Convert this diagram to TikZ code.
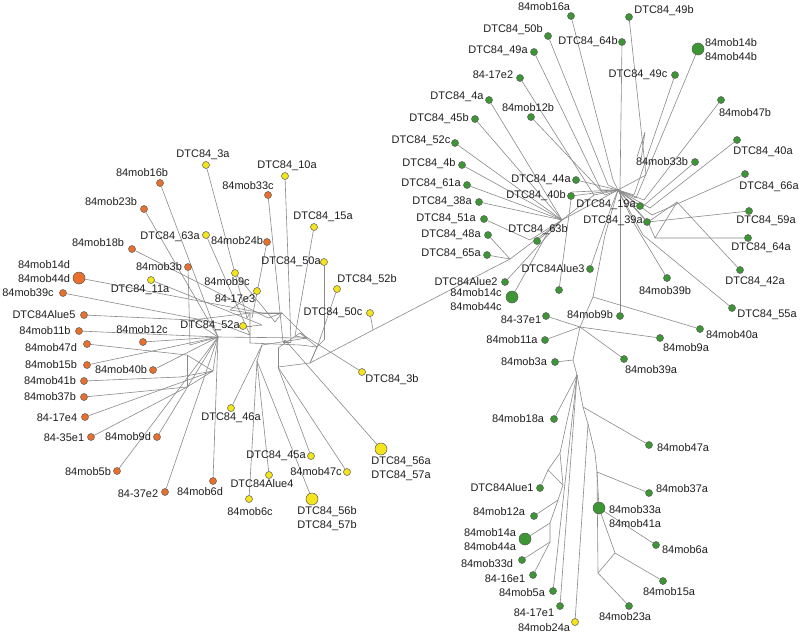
\documentclass[tikz,border=0pt]{standalone}
\usepackage{fontspec}
\setmainfont{Liberation Sans}
\usetikzlibrary{backgrounds}
\definecolor{orn}{HTML}{E8702C}
\definecolor{yel}{HTML}{F4E41C}
\definecolor{grn}{HTML}{3C9634}
\definecolor{edg}{HTML}{8A8A8A}
\newcommand\leafnode[5]{\node[#1] (#2) at (#3) {}; \node[lbl] (#2t) at (#4) {#5};}
\begin{document}
\begin{tikzpicture}[x=1pt,y=-1pt,
  dot/.style={circle,draw=black!65,line width=0.5pt,inner sep=0pt,minimum size=7pt},
  O/.style={dot,fill=orn}, Y/.style={dot,fill=yel}, G/.style={dot,fill=grn},
  big/.style={minimum size=12pt},
  lbl/.style={font=\fontsize{11}{14}\selectfont, text=black!88, inner sep=0pt, align=left},
  ed/.style={draw=edg, line width=0.6pt}]
\useasboundingbox (0,0) rectangle (800,635);

% ---------- left cluster leaves ----------
\leafnode{Y}{l3a}{206,165}{203,155}{DTC84\_3a}
\leafnode{O}{l16b}{160,183}{142,173}{84mob16b}
\leafnode{O}{l23b}{144,209}{111,202}{84mob23b}
\leafnode{Y}{l63a}{206,235}{170,237}{DTC84\_63a}
\leafnode{O}{l24b}{267,242}{237,241}{84mob24b}
\leafnode{O}{l18b}{132,249}{98,243}{84mob18b}
\leafnode{O}{l3b}{188,267}{159,267}{84mob3b}
\leafnode{O,big}{l14d}{79,278}{44,272}{84mob14d\\84mob44d}
\leafnode{Y}{l11a}{151,280}{140,290}{DTC84\_11a}
\leafnode{Y}{l9c}{235,273}{227,282}{84mob9c}
\leafnode{Y}{l17e3}{257,291}{235,299}{84-17e3}
\leafnode{O}{l39c}{63,293}{28,293}{84mob39c}
\leafnode{O}{lA5}{84,315}{44,315}{DTC84Alue5}
\leafnode{O}{l11b}{79,331}{45,331}{84mob11b}
\leafnode{O}{l12c}{143,342}{142,330}{84mob12c}
\leafnode{Y}{l52a}{243,326}{210,326}{DTC84\_52a}
\leafnode{O}{l47d}{87,344}{51,348}{84mob47d}
\leafnode{O}{l15b}{87,365}{51,365}{84mob15b}
\leafnode{O}{l40b}{153,370}{121,370}{84mob40b}
\leafnode{O}{l41b}{84,381}{50,381}{84mob41b}
\leafnode{O}{l37b}{84,397}{50,397}{84mob37b}
\leafnode{O}{l17e4}{85,417}{57,418}{84-17e4}
\leafnode{O}{l35e1}{91,437}{64,438}{84-35e1}
\leafnode{O}{l9d}{157,437}{128,437}{84mob9d}
\leafnode{O}{l5b}{117,471}{88,472}{84mob5b}
\leafnode{O}{l37e2}{165,492}{138,494}{84-37e2}
\leafnode{O}{l6d}{213,481}{200,492}{84mob6d}
\leafnode{Y}{l46a}{231,408}{231,418}{DTC84\_46a}
\leafnode{Y}{l50c}{370,313}{333,313}{DTC84\_50c}
\leafnode{Y}{l3bb}{362,372}{392,380}{DTC84\_3b}
\leafnode{Y}{l45a}{311,456}{276,456}{DTC84\_45a}
\leafnode{Y}{lA4}{269,475}{262,484}{DTC84Alue4}
\leafnode{Y}{l47c}{347,472}{316,472}{84mob47c}
\leafnode{Y}{l6c}{249,499}{250,512}{84mob6c}
\leafnode{Y,big}{l56b}{312,499}{327,519}{DTC84\_56b\\DTC84\_57b}
\leafnode{Y,big}{l56a}{381,449}{401,469}{DTC84\_56a\\DTC84\_57a}
\leafnode{Y}{l10a}{285,176}{287,166}{DTC84\_10a}
\leafnode{O}{l33c}{268,195}{248,186}{84mob33c}
\leafnode{Y}{l15a}{314,227}{323,217}{DTC84\_15a}
\leafnode{Y}{l50a}{324,262}{291,262}{DTC84\_50a}
\leafnode{Y}{l52b}{337,289}{367,280}{DTC84\_52b}

% ---------- right cluster leaves ----------
\leafnode{G}{r16a}{571,16}{544,7}{84mob16a}
\leafnode{G}{r49b}{629,17}{664,11}{DTC84\_49b}
\leafnode{G}{r50b}{548,36}{513,30}{DTC84\_50b}
\leafnode{G}{r64b}{622,42}{588,42}{DTC84\_64b}
\leafnode{G}{r49a}{534,52}{498,51}{DTC84\_49a}
\leafnode{G,big}{r14b}{698,49}{731,50}{84mob14b\\84mob44b}
\leafnode{G}{r17e2}{520,78}{493,75}{84-17e2}
\leafnode{G}{r49c}{675,75}{638,75}{DTC84\_49c}
\leafnode{G}{r4a}{489,100}{457,97}{DTC84\_4a}
\leafnode{G}{r47b}{721,100}{745,113}{84mob47b}
\leafnode{G}{r12b}{531,117}{528,108}{84mob12b}
\leafnode{G}{r45b}{475,119}{439,119}{DTC84\_45b}
\leafnode{G}{r52c}{455,143}{421,141}{DTC84\_52c}
\leafnode{G}{r40a}{737,140}{763,152}{DTC84\_40a}
\leafnode{G}{r33b}{695,162}{662,162}{84mob33b}
\leafnode{G}{r4b}{462,165}{429,164}{DTC84\_4b}
\leafnode{G}{r66a}{745,174}{769,187}{DTC84\_66a}
\leafnode{G}{r44a}{576,180}{541,180}{DTC84\_44a}
\leafnode{G}{r61a}{467,185}{431,184}{DTC84\_61a}
\leafnode{G}{r40b}{571,196}{536,196}{DTC84\_40b}
\leafnode{G}{r38a}{479,202}{442,202}{DTC84\_38a}
\leafnode{G}{r19a}{640,206}{606,205}{DTC84\_19a}
\leafnode{G}{r51a}{484,219}{446,219}{DTC84\_51a}
\leafnode{G}{r59a}{749,211}{766,221}{DTC84\_59a}
\leafnode{G}{r39a}{647,222}{613,221}{DTC84\_39a}
\leafnode{G}{r48a}{488,235}{451,235}{DTC84\_48a}
\leafnode{G}{r63b}{537,241}{538,230}{DTC84\_63b}
\leafnode{G}{r64a}{748,238}{761,248}{DTC84\_64a}
\leafnode{G}{r65a}{487,255}{451,254}{DTC84\_65a}
\leafnode{G}{rA3}{590,269}{553,269}{DTC84Alue3}
\leafnode{G}{r42a}{740,270}{755,282}{DTC84\_42a}
\leafnode{G}{r39b}{667,278}{665,291}{84mob39b}
\leafnode{G}{rA2}{505,282}{466,282}{DTC84Alue2}
\node[G] (rU) at (559,290) {};
\leafnode{G,big}{r14c}{512,297}{476,300}{84mob14c\\84mob44c}
\leafnode{G}{r55a}{732,308}{767,315}{DTC84\_55a}
\leafnode{G}{r37e1}{546,316}{521,320}{84-37e1}
\leafnode{G}{r9b}{620,316}{590,315}{84mob9b}
\leafnode{G}{r40aa}{700,329}{732,335}{84mob40a}
\leafnode{G}{r11a}{545,340}{512,340}{84mob11a}
\leafnode{G}{r9a}{660,338}{686,348}{84mob9a}
\leafnode{G}{r3a}{555,362}{524,362}{84mob3a}
\leafnode{G}{r39aa}{624,359}{651,370}{84mob39a}
\leafnode{G}{r18a}{554,419}{518,419}{84mob18a}
\leafnode{G}{r47a}{649,445}{683,448}{84mob47a}
\leafnode{G}{rA1}{540,488}{502,488}{DTC84Alue1}
\leafnode{G}{r37a}{649,493}{682,489}{84mob37a}
\leafnode{G,big}{r33a}{599,508}{635,517}{84mob33a\\84mob41a}
\leafnode{G}{r12a}{534,516}{499,512}{84mob12a}
\leafnode{G,big}{r14a}{525,539}{490,540}{84mob14a\\84mob44a}
\leafnode{G}{r6a}{656,545}{685,550}{84mob6a}
\leafnode{G}{r33d}{522,560}{487,564}{84mob33d}
\leafnode{G}{r16e1}{533,575}{505,579}{84-16e1}
\leafnode{G}{r15a}{663,581}{669,592}{84mob15a}
\leafnode{G}{r5a}{553,591}{522,593}{84mob5a}
\leafnode{G}{r17e1}{560,606}{534,613}{84-17e1}
\leafnode{G}{r23a}{629,606}{625,617}{84mob23a}
\leafnode{Y}{r24a}{575,622}{544,628}{84mob24a}

% ---------- internal points ----------
\coordinate (A) at (218,337);  \coordinate (B) at (213,371);
\coordinate (L1) at (247,318); \coordinate (L2) at (268,318);
\coordinate (L3) at (190,345); \coordinate (L4) at (262,313);
\coordinate (L5) at (262,325); \coordinate (L6) at (218,323);
\coordinate (L7) at (192,320); \coordinate (L8) at (187,355);
\coordinate (L9) at (180,377); \coordinate (L10) at (187,387);
\coordinate (L11) at (252,326); \coordinate (L12) at (275,322);
\coordinate (L13) at (230,310); \coordinate (L14) at (252,318);
\coordinate (L15) at (283,342); \coordinate (L16) at (291,342);
\coordinate (L17) at (295,336); \coordinate (L18) at (324,340);
\coordinate (L19) at (318,345); \coordinate (L20) at (250,335);
\coordinate (L21) at (373,330); \coordinate (L22) at (300,333);
\coordinate (L23) at (285,340); \coordinate (Q) at (278,367);
\coordinate (AP) at (257,361); \coordinate (L24) at (262,345);
\coordinate (LL) at (310,363);
\coordinate (P1) at (250,313); \coordinate (P2) at (282,313);
\coordinate (P3) at (307,338); \coordinate (P4) at (250,343);
\coordinate (P6) at (300,345); \coordinate (P7) at (317,347);
\coordinate (P8) at (278,348);

\coordinate (H) at (618,190);  \coordinate (H2) at (562,220);
\coordinate (H4) at (510,259);
\coordinate (R1) at (593,297); \coordinate (R2) at (613,180);
\coordinate (R3) at (646,175); \coordinate (R4) at (608,185);
\coordinate (R5) at (620,190); \coordinate (R6) at (601,190);
\coordinate (R7) at (594,195); \coordinate (R8) at (605,195);
\coordinate (R9) at (530,240); \coordinate (R10) at (548,232);
\coordinate (R11) at (572,192); \coordinate (R12) at (642,207);
\coordinate (R13) at (636,198); \coordinate (R14) at (634,195);
\coordinate (R15) at (644,200); \coordinate (R16) at (650,208);
\coordinate (R16b) at (652,215); \coordinate (R17) at (648,222);
\coordinate (R18) at (655,238); \coordinate (R19) at (677,202);
\coordinate (R20) at (643,235); \coordinate (R21) at (635,225);
\coordinate (R22) at (605,235); \coordinate (R23) at (612,205);
\coordinate (R24) at (637,157); \coordinate (R25) at (645,132);
\coordinate (R26) at (641,160);

\coordinate (T1) at (580,327); \coordinate (T2) at (573,360);
\coordinate (T3) at (577,375); \coordinate (Q0) at (583,407);
\coordinate (Q0b) at (588,424); \coordinate (Q1) at (595,453);
\coordinate (Q2) at (597,472); \coordinate (Q3) at (598,573);
\coordinate (Q4) at (615,553);
\coordinate (S1) at (560,453); \coordinate (S2) at (548,470);
\coordinate (S3) at (563,485); \coordinate (S4) at (558,500);
\coordinate (S5) at (550,523); \coordinate (S6) at (550,542);

\begin{scope}[on background layer]
\fill[white] (0,0) rectangle (800,635);
% left cluster
\draw[ed] (l3a) -- (L1);
\draw[ed] (l16b) -- (A);
\draw[ed] (l23b) -- (A);
\draw[ed] (l18b) -- (L2);
\draw[ed] (l3b) -- (L3);
\draw[ed] (l14d) -- (L4);
\draw[ed] (l11a) -- (L5);
\draw[ed] (l39c) -- (L6);
\draw[ed] (lA5) -- (L7) -- (A);
\draw[ed] (l11b) -- (A);
\draw[ed] (l12c) -- (A);
\draw[ed] (l47d) -- (L8) -- (B);
\draw[ed] (l15b) -- (A);
\draw[ed] (l40b) -- (A);
\draw[ed] (l41b) -- (L9) -- (B);
\draw[ed] (l37b) -- (L10) -- (B);
\draw[ed] (l17e4) -- (B);
\draw[ed] (l35e1) -- (L10);
\draw[ed] (l9d) -- (A);
\draw[ed] (l5b) -- (A);
\draw[ed] (l37e2) -- (A);
\draw[ed] (l6d) -- (A);
\draw[ed] (l52a) -- (L11);
\draw[ed] (l9c) -- (L12);
\draw[ed] (l17e3) -- (L13);
\draw[ed] (l24b) -- (L14);
\draw[ed] (l33c) -- (L15);
\draw[ed] (l10a) -- (L16);
\draw[ed] (l15a) -- (L17);
\draw[ed] (l50a) -- (L18);
\draw[ed] (l52b) -- (L19);
\draw[ed] (l63a) -- (L20);
\draw[ed] (l50c) -- (L21);
\draw[ed] (l3bb) -- (L22);
\draw[ed] (l56a) -- (L23);
\draw[ed] (l45a) -- (Q);
\draw[ed] (l47c) -- (Q);
\draw[ed] (l56b) -- (AP);
\draw[ed] (lA4) -- (AP);
\draw[ed] (l6c) -- (AP);
\draw[ed] (l46a) -- (L24);
\draw[ed] (AP) -- (L24);
\draw[ed] (Q) -- (LL);
\draw[ed] (Q) -- (P8);
\draw[ed] (LL) -- (L21) -- (H4);
\draw[ed] (A) -- (P3);
\draw[ed] (P1) -- (P2) -- (P3);
\draw[ed] (P1) -- (P4) -- (P6) -- (P7);
\draw[ed] (L13) -- (P1);
\draw[ed] (L7) -- (P1);
\draw[ed] (L6) -- (L20);
\draw[ed] (L24) -- (P3);
\draw[ed] (P8) -- (L22);
\draw[ed] (L15) -- (L16);
\draw[ed] (L18) -- (P7);
\draw[ed] (L19) -- (LL);
\draw[ed] (L8) -- (L10);
\draw[ed] (B) -- (A);
\draw[ed] (L3) -- (A);
\draw[ed] (L1) -- (P1);
\draw[ed] (L2) -- (P2);
\draw[ed] (L4) -- (P2);
\draw[ed] (L5) -- (L11);
\draw[ed] (L12) -- (P2);
\draw[ed] (L17) -- (P3);
\draw[ed] (L23) -- (L15);
\draw[ed] (L22) -- (P7);
\draw[ed] (LL) -- (P7);
% right cluster
\draw[ed] (r16a) -- (R2) -- (H);
\draw[ed] (r49b) -- (R3) -- (H);
\draw[ed] (r50b) -- (R4) -- (H);
\draw[ed] (r64b) -- (R5);
\draw[ed] (r9b) -- (R5);
\draw[ed] (r49a) -- (R6) -- (H);
\draw[ed] (r17e2) -- (R7) -- (H);
\draw[ed] (r4a) -- (H2);
\draw[ed] (r12b) -- (R8) -- (H);
\draw[ed] (r45b) -- (H2);
\draw[ed] (r52c) -- (H2);
\draw[ed] (r4b) -- (H2);
\draw[ed] (r61a) -- (H2);
\draw[ed] (r38a) -- (H2);
\draw[ed] (r51a) -- (R9) -- (H2);
\draw[ed] (r48a) -- (H4);
\draw[ed] (r65a) -- (H4);
\draw[ed] (r63b) -- (H2);
\draw[ed] (rA2) -- (H2);
\draw[ed] (H4) -- (H2);
\draw[ed] (r14c) -- (R10) -- (H2);
\draw[ed] (r44a) -- (H);
\draw[ed] (r40b) -- (H);
\draw[ed] (rU) -- (R11) -- (H);
\draw[ed] (r19a) -- (H);
\draw[ed] (r39a) -- (H);
\draw[ed] (r33b) -- (R12) -- (H);
\draw[ed] (r14b) -- (R13) -- (H);
\draw[ed] (r49c) -- (R14) -- (H);
\draw[ed] (r47b) -- (R15) -- (H);
\draw[ed] (r40a) -- (R16) -- (H);
\draw[ed] (r66a) -- (R16b) -- (H);
\draw[ed] (r59a) -- (R17) -- (H);
\draw[ed] (r64a) -- (R18) -- (R17);
\draw[ed] (r42a) -- (R19) -- (R17);
\draw[ed] (R18) -- (R19);
\draw[ed] (r55a) -- (R20) -- (H);
\draw[ed] (r39b) -- (R21) -- (H);
\draw[ed] (rA3) -- (R23) -- (H);
\draw[ed] (r40aa) -- (R1) -- (R22) -- (H);
\draw[ed] (H2) -- (R7);
\draw[ed] (H2) -- (H);
\draw[ed] (R24) -- (R25) -- (R26);
% bottom tree
\draw[ed] (r37e1) -- (T1) -- (r9a);
\draw[ed] (r11a) -- (T1);
\draw[ed] (T1) -- (r39aa);
\draw[ed] (T1) -- (R1);
\draw[ed] (T1) -- (T2) -- (T3);
\draw[ed] (r3a) -- (T2);
\draw[ed] (T3) -- (r18a);
\draw[ed] (T3) -- (S1) -- (S2) -- (rA1);
\draw[ed] (S1) -- (S3);
\draw[ed] (S2) -- (S3) -- (S4) -- (r12a);
\draw[ed] (S4) -- (S5) -- (r14a);
\draw[ed] (S5) -- (S6) -- (r33d);
\draw[ed] (S6) -- (r16e1);
\draw[ed] (T3) -- (r5a);
\draw[ed] (T3) -- (r17e1);
\draw[ed] (Q0b) -- (r24a);
\draw[ed] (T3) -- (Q0) -- (r47a);
\draw[ed] (Q0) -- (Q0b) -- (Q1) -- (Q2) -- (r37a);
\draw[ed] (Q2) -- (r33a) -- (r6a);
\draw[ed] (Q2) -- (Q3) -- (r23a);
\draw[ed] (Q3) -- (Q4) -- (r15a);
\draw[ed] (r33a) -- (Q4);
\end{scope}
\end{tikzpicture}
\end{document}
